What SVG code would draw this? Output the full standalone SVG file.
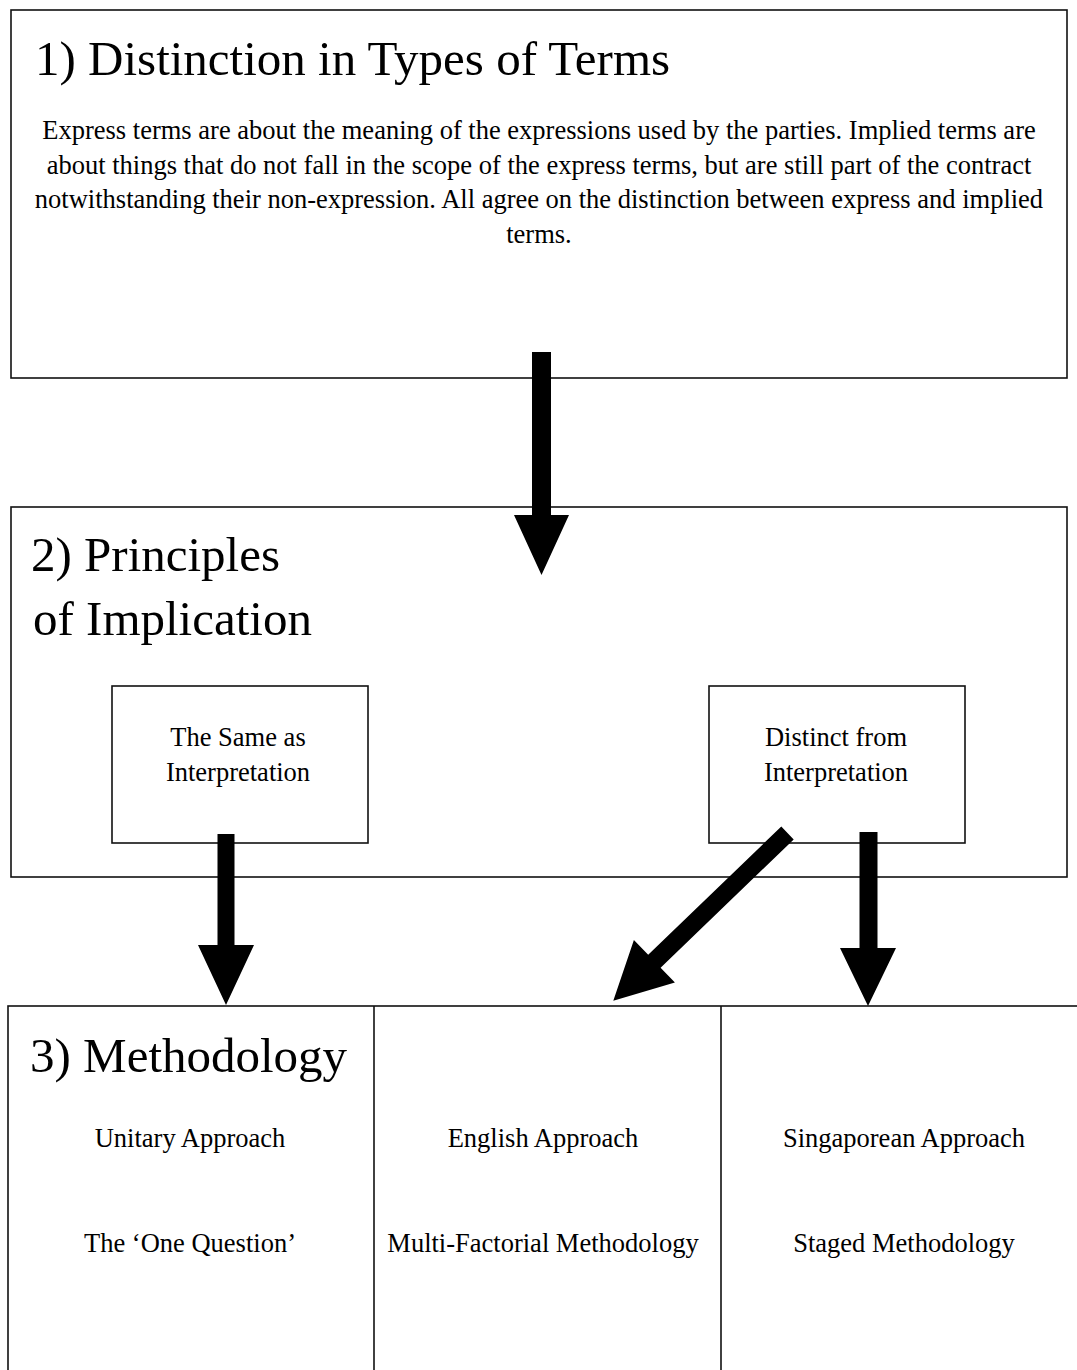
<svg xmlns="http://www.w3.org/2000/svg" width="1077" height="1370" viewBox="0 0 1077 1370">
<style>
  .box { fill: #ffffff; stroke: #111111; stroke-width: 1.6; }
  .div { stroke: #111111; stroke-width: 1.6; }
  .title { font-family: "Liberation Serif", "Times New Roman", serif; font-size: 49px; fill: #000000; }
  .txt { font-family: "Liberation Serif", "Times New Roman", serif; font-size: 26.5px; fill: #000000; text-anchor: middle; }
  .arrow { fill: #000000; stroke: none; }
</style>
<rect x="0" y="0" width="1077" height="1370" fill="#ffffff"/>

<g id="node-distinction">
  <rect class="box" x="11" y="10" width="1056" height="368"/>
  <text class="title" x="35" y="75">1) Distinction in Types of Terms</text>
  <text class="txt" x="539" y="139">Express terms are about the meaning of the expressions used by the parties. Implied terms are</text>
  <text class="txt" x="539" y="174">about things that do not fall in the scope of the express terms, but are still part of the contract</text>
  <text class="txt" x="539" y="208">notwithstanding their non-expression. All agree on the distinction between express and implied</text>
  <text class="txt" x="539" y="243">terms.</text>
</g>

<g id="node-principles">
  <rect class="box" x="11" y="507" width="1056" height="370"/>
  <text class="title" x="31" y="571">2) Principles</text>
  <text class="title" x="33" y="635">of Implication</text>
</g>

<g id="node-same">
  <rect class="box" x="112" y="686" width="256" height="157"/>
  <text class="txt" x="238" y="746">The Same as</text>
  <text class="txt" x="238" y="781">Interpretation</text>
</g>

<g id="node-distinct">
  <rect class="box" x="709" y="686" width="256" height="157"/>
  <text class="txt" x="836" y="746">Distinct from</text>
  <text class="txt" x="836" y="781">Interpretation</text>
</g>

<g id="node-methodology">
  <rect class="box" x="8" y="1006" width="1090" height="400"/>
  <line class="div" x1="374" y1="1006" x2="374" y2="1370"/>
  <line class="div" x1="721" y1="1006" x2="721" y2="1370"/>
  <text class="title" x="30" y="1072">3) Methodology</text>
  <text class="txt" x="190" y="1147">Unitary Approach</text>
  <text class="txt" x="190" y="1252">The ‘One Question’</text>
  <text class="txt" x="543" y="1147">English Approach</text>
  <text class="txt" x="543" y="1252">Multi-Factorial Methodology</text>
  <text class="txt" x="904" y="1147">Singaporean Approach</text>
  <text class="txt" x="904" y="1252">Staged Methodology</text>
</g>

<g id="connectors">
  <polygon class="arrow" points="532,352 551,352 551,515 569,515 541.5,575 514,515 532,515"/>
  <polygon class="arrow" points="217.5,834 234.5,834 234.5,945 254,945 226,1005 198,945 217.5,945"/>
  <polygon class="arrow" points="859.5,832 877.5,832 877.5,948 896,948 868,1006 840,948 859.5,948"/>
  <polygon class="arrow" points="781.3,826.5 793.7,839.5 660.6,967.7 674.9,982.5 613.3,1000.7 633.9,939.9 648.2,954.7"/>
</g>
</svg>
